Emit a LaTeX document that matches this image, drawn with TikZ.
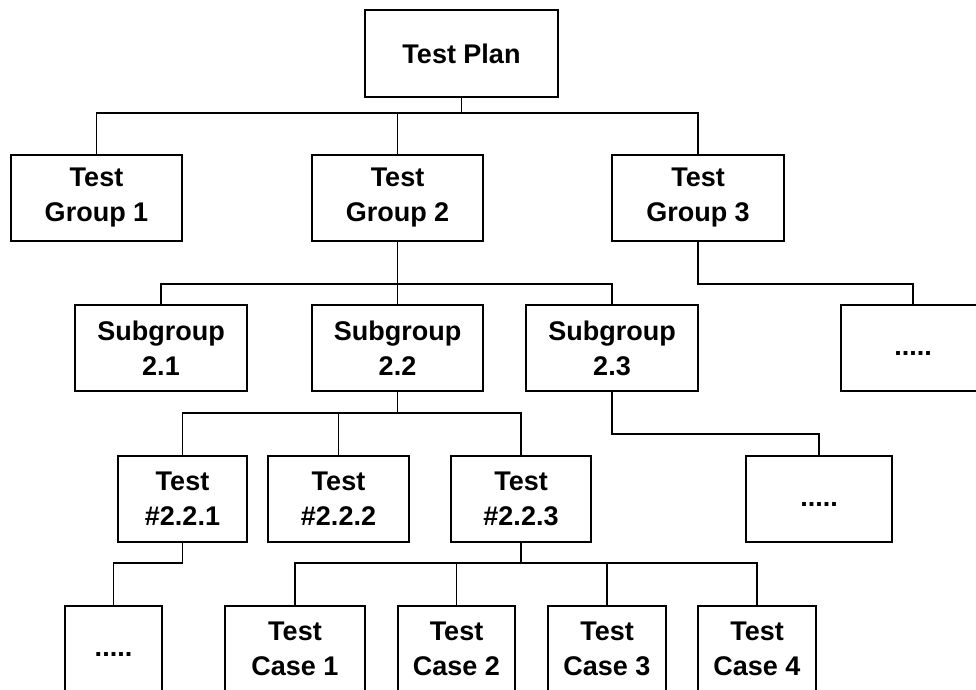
\documentclass[tikz,border=0pt]{standalone}
\usepackage{fontspec}
\setmainfont{Liberation Sans}
\usepackage{tikz}

\begin{document}
\begin{tikzpicture}[x=1pt, y=-1pt,
        box/.style={draw=black, line width=1.8pt, inner sep=0pt, align=center,
                font=\fontsize{27}{35}\selectfont\bfseries, minimum height=86pt},
        link/.style={draw=black, line width=1.3pt}]
        \useasboundingbox (0,0) rectangle (976,689);
        \clip (0,0) rectangle (976,689);
        \node [box, minimum width=193pt, minimum height=87pt] (plan) at (461.5,53.5) {Test Plan};
        \node [box, minimum width=171pt] (g1) at (96.5,198) {Test\\Group 1};
        \node [box, minimum width=171pt] (g2) at (397.5,198) {Test\\Group 2};
        \node [box, minimum width=172pt] (g3) at (698,198) {Test\\Group 3};
        \node [box, minimum width=172pt] (s1) at (161,348) {Subgroup\\2.1};
        \node [box, minimum width=171pt] (s2) at (397.5,348) {Subgroup\\2.2};
        \node [box, minimum width=172pt] (s3) at (612,348) {Subgroup\\2.3};
        \node [box, minimum width=144pt] (gdots) at (913,348) {\strut.....};
        \node [box, minimum width=129pt] (t1) at (182.5,499) {Test\\\#2.2.1};
        \node [box, minimum width=141pt] (t2) at (338.5,499) {Test\\\#2.2.2};
        \node [box, minimum width=140pt] (t3) at (521,499) {Test\\\#2.2.3};
        \node [box, minimum width=146pt] (sdots) at (819,499) {\strut.....};
        \node [box, minimum width=97pt] (tdots) at (113.5,649) {\strut.....};
        \node [box, minimum width=140pt] (c1) at (295,649) {Test\\Case 1};
        \node [box, minimum width=117pt] (c2) at (456.5,649) {Test\\Case 2};
        \node [box, minimum width=118pt] (c3) at (607,649) {Test\\Case 3};
        \node [box, minimum width=118pt] (c4) at (757,649) {Test\\Case 4};
        \coordinate (bus1) at (0,113);
        \coordinate (bus2) at (0,284);
        \coordinate (bus3) at (0,413);
        \coordinate (bus4) at (0,434);
        \coordinate (bus5) at (0,563);
        \foreach \c in {g1,g2,g3}
                \draw [link] (\c.north) |- (plan.south |- bus1) -- (plan.south);
        \foreach \c in {s1,s2,s3}
                \draw [link] (\c.north) |- (g2.south |- bus2) -- (g2.south);
        \draw [link] (gdots.north) |- (g3.south |- bus2) -- (g3.south);
        \foreach \c in {t1,t2,t3}
                \draw [link] (\c.north) |- (s2.south |- bus3) -- (s2.south);
        \draw [link] (sdots.north) |- (s3.south |- bus4) -- (s3.south);
        \draw [link] (tdots.north) |- (t1.south |- bus5) -- (t1.south);
        \foreach \c in {c1,c2,c3,c4}
                \draw [link] (\c.north) |- (t3.south |- bus5) -- (t3.south);
        \end{tikzpicture}
\end{document}
